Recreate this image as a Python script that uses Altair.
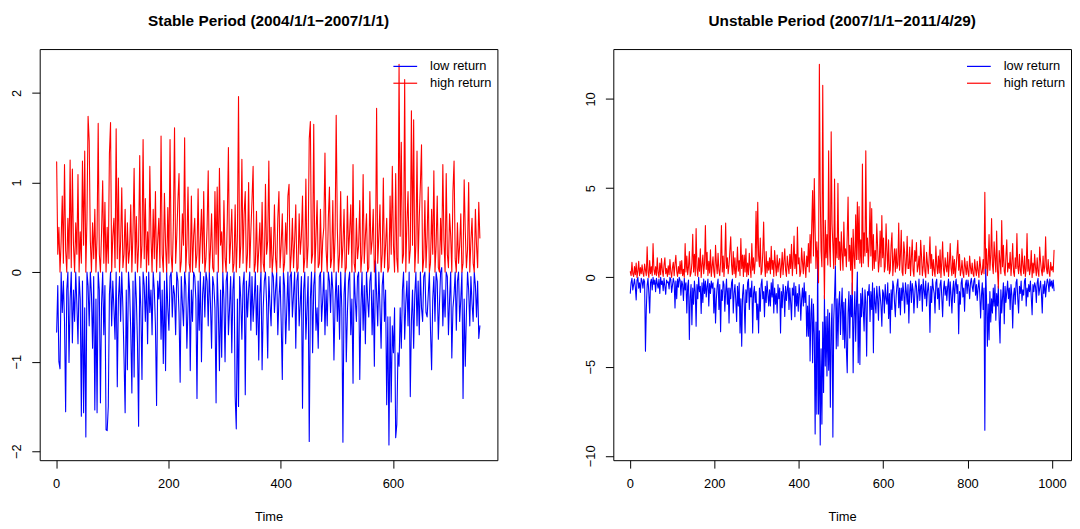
import altair as alt
import pandas as pd

FONT = "Liberation Sans"
SERIES = ["low return", "high return"]
COLORS = ["#0000FF", "#FF0000"]
STEP = 2  # one value every 2 time units

STABLE_TITLE = "Stable Period (2004/1/1\u22122007/1/1)"
UNSTABLE_TITLE = "Unstable Period (2007/1/1\u22122011/4/29)"

stable_n = 756
unstable_n = 1005
stable_xticks = [0, 200, 400, 600]
stable_yticks = [-2, -1, 0, 1, 2]
unstable_xticks = [0, 200, 400, 600, 800, 1000]
unstable_yticks = [-10, -5, 0, 5, 10]

# Time = 1, 3, 5, ... ; 15 values per row (30 time units)
stable_high = [
    1.23, 0.20, 0.50, 0.00, 0.35, 0.85, 0.10, 1.20, 0.25, 0.00, 0.60, 0.15, 1.25, 0.05, 1.15,
    0.30, 0.00, 0.55, 0.20, 1.09, 0.00, 0.45, 0.10, 1.24, 0.30, 1.35, 0.00, 0.60, 1.74, 1.46,
    0.35, 0.00, 0.55, 0.15, 0.70, 0.00, 0.40, 1.66, 0.20, 0.00, 0.45, 1.02, 0.10, 0.78, 0.00,
    0.50, 0.10, 1.32, 1.67, 0.00, 0.40, 0.60, 0.05, 1.60, 0.15, 1.05, 0.00, 0.35, 0.94, 0.05,
    0.20, 0.70, 0.00, 0.55, 0.10, 0.25, 0.75, 0.00, 0.45, 1.16, 0.10, 0.62, 0.00, 0.30, 1.30,
    0.05, 0.30, 1.48, 0.15, 0.82, 0.00, 0.45, 0.08, 1.18, 0.40, 0.00, 0.70, 0.15, 0.90, 0.00,
    0.35, 0.60, 0.05, 1.52, 0.20, 0.00, 0.88, 0.30, 0.00, 0.72, 0.10, 1.48, 0.20, 0.00, 0.55,
    1.61, 0.10, 0.40, 0.80, 1.10, 0.00, 0.12, 0.65, 0.30, 1.50, 0.00, 0.30, 0.95, 0.10, 0.00,
    0.85, 0.00, 0.40, 0.60, 0.05, 0.20, 0.93, 0.00, 0.35, 0.70, 0.10, 0.90, 0.00, 0.15, 0.50,
    1.13, 0.00, 0.25, 0.65, 0.05, 0.00, 0.90, 0.20, 0.95, 0.00, 1.16, 0.30, 0.45, 0.00, 0.80,
    0.15, 0.00, 0.60, 1.39, 0.10, 0.35, 0.70, 0.00, 0.10, 0.75, 0.00, 0.40, 1.96, 0.05, 0.30,
    1.26, 0.10, 0.65, 0.90, 0.00, 0.20, 1.00, 0.05, 0.45, 0.80, 1.18, 0.00, 0.10, 0.68, 0.00,
    0.25, 0.55, 0.00, 0.78, 0.10, 0.00, 0.98, 0.20, 0.35, 1.24, 0.05, 0.50, 0.00, 0.20, 0.75,
    0.15, 0.00, 0.60, 0.90, 0.05, 0.30, 0.65, 0.00, 0.10, 0.55, 0.20, 0.85, 0.98, 0.00, 0.20,
    0.60, 0.05, 0.35, 0.75, 0.00, 0.05, 0.65, 0.20, 0.40, 0.85, 0.00, 0.15, 1.04, 0.05, 0.30,
    1.49, 1.68, 0.10, 0.20, 1.65, 0.00, 0.40, 0.80, 0.05, 0.10, 0.70, 0.00, 0.35, 0.50, 1.33,
    0.25, 0.00, 0.60, 0.95, 0.05, 0.15, 0.80, 0.00, 0.40, 1.75, 0.50, 0.00, 0.20, 0.90, 0.05,
    0.30, 0.70, 0.00, 0.05, 0.85, 0.20, 0.45, 0.75, 0.00, 1.20, 0.10, 0.00, 0.60, 0.15, 0.30,
    0.80, 0.00, 0.20, 1.09, 0.10, 0.40, 0.65, 0.00, 0.05, 0.90, 0.20, 0.35, 0.70, 0.00, 0.15,
    1.83, 0.10, 0.40, 0.75, 0.00, 0.20, 1.05, 0.05, 0.30, 0.60, 0.00, 0.05, 0.85, 0.20, 1.18,
    0.30, 0.00, 1.10, 0.15, 0.00, 2.32, 0.40, 1.45, 0.10, 0.20, 2.15, 0.00, 0.55, 0.90, 0.10,
    0.25, 1.80, 0.30, 1.70, 0.00, 0.30, 1.35, 0.10, 0.60, 0.98, 1.42, 0.00, 0.15, 0.80, 0.05,
    0.40, 0.95, 0.00, 0.10, 0.70, 0.20, 1.13, 0.00, 0.30, 0.85, 0.05, 0.00, 0.60, 0.20, 1.20,
    0.35, 0.00, 1.10, 0.20, 0.05, 0.65, 0.40, 0.00, 0.90, 1.24, 0.15, 0.00, 0.55, 0.10, 0.30,
    0.65, 0.00, 0.10, 1.03, 0.45, 0.05, 0.25, 1.00, 0.00, 0.35, 0.60, 0.10, 0.00, 0.70, 0.30,
    0.05, 0.78, 0.38,
]

stable_low = [
    -0.67, -0.15, -1.00, -1.08, 0.00, -0.45, -0.10, -0.55, -1.56, -0.20, 0.00, -1.01, -0.30, 0.00, -0.79,
    -0.20, -0.55, 0.00, -0.35, -0.80, -0.05, -0.30, -1.61, -0.10, -1.57, -0.40, -1.84, 0.00, -0.15, -0.60,
    0.00, -0.25, -0.85, -0.05, -1.54, -0.30, -1.57, 0.00, -0.20, -1.46, -0.35, 0.00, -0.70, -0.15, -1.76,
    -1.77, -1.50, -0.25, 0.00, -0.60, -0.10, -0.40, -0.75, 0.00, -1.28, -0.30, -0.05, -0.55, 0.00, -0.40,
    -0.95, -1.57, -0.20, -1.09, 0.00, -0.20, -0.65, -1.35, -0.10, -1.17, 0.00, -0.30, -0.80, -1.72, -0.05,
    -0.40, -1.20, 0.00, -0.15, -0.55, -0.05, -0.80, 0.00, -0.45, -0.20, -0.70, 0.00, -0.20, -0.60, -1.49,
    -0.10, -0.30, 0.00, -0.75, -0.20, -1.02, -0.10, -1.10, 0.00, -0.40, -0.65, -0.05, 0.00, -0.50, -0.15,
    -0.25, -0.70, 0.00, -0.10, -0.45, -1.23, -0.05, -0.35, -0.60, 0.00, -0.15, -0.85, -0.40, 0.00, -1.10,
    -0.20, -0.55, 0.00, -0.05, -0.30, -1.41, -0.10, -0.65, 0.00, -1.00, -0.25, -0.05, -0.50, 0.00, -0.10,
    -0.60, 0.00, -0.35, -0.85, -0.05, -0.15, -0.40, -1.46, 0.00, -0.40, -1.10, -0.20, -0.95, 0.00, -0.30,
    -1.00, -0.10, 0.00, -0.70, -0.40, -0.05, -0.90, -0.20, 0.00, -1.39, -1.75, -0.30, -1.50, -0.05, -0.30,
    -0.75, -0.15, 0.00, -1.37, -0.10, -0.50, -0.20, 0.00, -0.65, -0.05, -0.55, -0.30, 0.00, -0.70, -0.15,
    -0.98, -0.25, 0.00, -1.09, -0.40, -0.10, 0.00, -0.35, -0.96, -0.05, -0.35, -0.60, 0.00, -0.05, -0.45,
    -0.20, 0.00, -0.70, -0.30, -0.05, -0.55, -1.20, 0.00, -0.15, -0.80, -0.40, 0.00, -0.65, -0.05, 0.00,
    -0.50, -0.25, 0.00, -0.85, -0.10, 0.00, -0.60, -0.35, -0.05, -1.52, -0.20, 0.00, -0.75, -0.40, -0.05,
    -1.89, -0.30, 0.00, -0.90, -0.15, 0.00, -0.65, -0.40, -0.85, -0.05, 0.00, -0.55, -0.30, 0.00, -0.70,
    -0.20, -0.60, 0.00, -0.10, -0.45, 0.00, -0.20, -0.98, -0.35, 0.00, -0.55, -0.15, -0.75, 0.00, -0.40,
    -1.90, -0.25, 0.00, -1.00, -0.45, -0.10, 0.00, -0.70, -0.30, -1.24, 0.00, -0.30, -0.55, -0.05, 0.00,
    -1.20, -0.40, 0.00, -0.65, -0.15, -0.80, 0.00, -0.30, -0.50, -0.10, 0.00, -0.70, -0.20, -1.05, 0.13,
    -0.25, -0.60, 0.00, -0.40, -0.85, -0.15, 0.00, -0.55, -0.20, -1.48, -0.50, -1.93, -0.50, -1.45, -0.60,
    -0.90, -0.40, -1.85, -1.70, -0.90, -1.05, -0.40, -0.85, -0.20, 0.00, -0.75, -0.35, -0.10, -0.60, 0.00,
    -1.39, -0.55, -0.20, -0.85, -0.25, 0.00, -0.60, -0.10, -0.70, 0.00, -0.40, -0.55, -0.05, 0.00, -0.45,
    -0.50, -0.25, 0.00, -0.65, -1.09, -0.30, -0.05, -0.55, 0.00, -0.10, -0.75, -0.35, 0.00, 0.05, -0.60,
    -0.20, -0.50, 0.00, -0.05, -0.70, -0.30, 0.00, -0.96, -0.40, -0.25, 0.00, -0.65, -0.10, 0.00, -0.55,
    -0.30, 0.00, -1.41, -0.30, -1.05, -0.45, 0.00, -0.20, -0.60, -0.05, -0.35, -0.55, 0.00, -0.15, -0.50,
    -0.10, -0.74, -0.60,
]

unstable_high = [
    0.32, 0.10, 0.85, 0.20, 0.05, 0.60, 0.15, 0.80, 0.00, 0.35, 0.90, 0.10, 0.55, 0.20, 0.70,
    0.25, 0.05, 0.75, 0.40, 0.10, 1.72, 0.30, 0.00, 0.95, 0.20, 0.60, 0.10, 1.89, 0.45, 0.15,
    0.60, 0.10, 1.10, 0.25, 0.00, 0.80, 0.15, 1.05, 0.40, 0.05, 0.70, 1.10, 0.20, 0.50, 0.05,
    0.65, 0.15, 1.00, 0.30, 0.00, 0.55, 0.85, 0.10, 0.75, 1.24, 0.35, 0.05, 0.60, 0.20, 0.90,
    0.20, 0.95, 0.10, 0.45, 0.00, 1.89, 0.30, 1.20, 0.15, 0.60, 1.45, 0.05, 0.25, 0.80, 2.41,
    0.30, 1.30, 0.10, 2.73, 0.50, 0.05, 1.10, 0.35, 1.60, 0.00, 0.70, 1.25, 0.20, 0.80, 2.91,
    0.45, 1.40, 0.10, 0.90, 0.25, 1.55, 0.05, 0.60, 1.15, 0.30, 0.00, 1.80, 0.75, 0.20, 1.35,
    0.40, 0.10, 0.85, 2.91, 0.30, 1.20, 0.05, 0.95, 3.05, 0.50, 1.10, 0.20, 0.70, 1.50, 2.27,
    0.70, 0.15, 1.45, 0.20, 1.10, 0.00, 0.60, 1.70, 0.35, 0.95, 0.10, 2.18, 0.50, 1.25, 0.05,
    1.25, 0.30, 1.60, 0.05, 0.80, 0.15, 1.35, 0.55, 0.00, 1.90, 0.40, 1.10, 0.20, 0.90, 3.70,
    0.90, 4.21, 1.20, 0.60, 2.20, 0.15, 0.35, 1.40, 3.10, 0.80, 0.05, 1.45, 0.25, 0.90, 0.40,
    1.10, 0.20, 1.74, 0.45, 0.95, 0.05, 1.50, 0.70, 0.10, 1.25, 0.30, 0.80, 1.05, 0.00, 0.55,
    1.40, 0.15, 0.90, 1.60, 0.40, 0.05, 1.20, 0.65, 0.20, 1.30, 0.50, 1.85, 0.10, 0.90, 2.32,
    0.50, 1.30, 0.20, 2.82, 0.75, 1.10, 0.05, 0.30, 1.65, 0.85, 0.20, 1.45, 0.60, 0.00, 1.20,
    0.60, 1.90, 0.30, 2.40, 0.80, 3.00, 4.86, 1.20, 5.54, 2.60, 0.50, 2.00, 0.90, -0.30, 11.94,
    4.77, 1.50, 0.60, 10.76, 2.20, -1.20, 3.20, 1.10, 2.40, 0.70, 7.09, 1.80, 0.60, 8.16, 3.00,
    1.80, 0.50, 5.51, 0.70, 2.20, 1.10, 5.27, 1.00, 2.00, 0.40, 2.55, 1.30, 0.40, 3.10, 1.20,
    1.60, 0.60, 2.30, 4.50, 0.90, 1.80, 0.40, 2.20, -0.95, 2.70, 1.20, 0.50, 3.50, 1.00, 4.22,
    1.00, 3.97, 0.80, 2.10, 0.60, 6.35, 0.80, 2.50, 1.20, 7.09, 1.40, 2.20, 0.60, 1.80, 4.22,
    1.20, 3.85, 0.40, 2.40, 0.50, 1.50, 0.90, 3.00, 1.70, 0.30, 0.90, 2.60, 0.60, 3.47, 1.10,
    2.20, 0.30, 0.60, 3.00, 1.50, 0.40, 2.10, 0.20, 0.40, 1.80, 2.50, 0.10, 0.90, 1.60, 0.30,
    1.60, 0.50, 0.70, 3.05, 0.40, 1.20, 2.64, 0.30, 0.10, 2.00, 1.40, 0.20, 0.80, 2.30, 0.50,
    0.50, 1.70, 0.10, 1.10, 2.10, 0.40, 0.05, 1.50, 0.90, 1.95, 0.30, 0.60, 1.20, 0.15, 2.08,
    1.20, 0.10, 0.60, 1.80, 0.35, 0.00, 1.40, 0.80, 0.20, 1.00, 2.27, 0.50, 1.30, 0.10, 1.00,
    0.40, 0.05, 1.75, 0.70, 0.20, 1.20, 0.25, 1.55, 0.00, 0.85, 2.00, 0.45, 0.10, 1.10, 0.60,
    0.30, 1.40, 0.05, 0.75, 1.90, 0.50, 0.10, 1.20, 0.20, 1.00, 0.00, 0.60, 1.30, 2.08, 0.40,
    1.30, 0.10, 0.40, 0.95, 0.25, 0.00, 1.10, 0.60, 0.15, 0.90, 0.30, 0.05, 1.20, 0.55, 0.20,
    0.80, 0.20, 0.05, 1.00, 0.45, 0.10, 0.90, 0.35, 0.00, 1.15, 0.60, 0.15, 0.30, 1.00, 0.20,
    4.77, 0.50, 1.60, 0.10, 0.80, 2.40, 0.40, 1.20, 3.29, 0.70, 0.20, 2.00, 1.10, 0.30, 2.60,
    0.40, -0.60, 1.50, 0.90, 0.20, 3.19, 0.60, 1.80, 0.35, 0.10, 1.20, 2.10, 0.30, 0.80, 0.50,
    1.40, 0.10, 0.80, 1.90, 0.30, 0.05, 1.10, 0.50, 2.45, 0.60, 0.20, 1.30, 0.40, 0.10, 1.60,
    0.70, 0.20, 1.20, 0.05, 0.50, 2.45, 0.35, 1.00, 0.15, 0.50, 1.50, 0.00, 0.80, 0.25, 1.30,
    0.55, 0.10, 1.10, 0.30, 0.05, 1.70, 0.90, 0.40, 0.10, 1.20, 0.30, 0.60, 2.27, 0.50, 0.20,
    1.00, 0.30, 0.05, 0.85, 0.40, 0.60, 0.30, 1.52,
]

unstable_low = [
    -0.89, -0.30, -0.05, -0.70, -0.40, -0.10, -0.55, -1.26, -0.15, 0.00, -0.60, -0.30, -0.85, -0.05, -0.20,
    -0.60, -0.10, -0.25, -4.14, -1.80, -0.45, -0.05, -0.90, -2.00, -0.30, -0.10, -0.70, 0.00, -0.40, -0.15,
    -0.80, -0.05, -0.35, -0.60, -0.10, -0.90, 0.00, -0.40, -0.20, -0.75, -0.05, -0.50, -0.95, -0.15, -0.30,
    -0.25, -0.65, 0.00, -0.10, -0.85, -0.45, -0.05, -0.30, -1.72, -0.20, -1.20, -0.10, -0.55, 0.00, -0.15,
    -1.00, -0.20, -0.40, -1.30, -0.05, -0.70, -0.30, -2.00, -0.50, -0.15, -3.48, -1.10, -0.40, -2.65, -0.60,
    -1.50, -0.20, -0.80, -2.74, -0.40, -1.20, 0.00, -0.80, -0.50, -2.02, -0.30, -1.40, -0.10, -0.90, -0.20,
    -1.10, -0.50, -0.10, -1.60, -0.35, -0.90, -0.20, -0.60, -0.30, -2.00, -0.60, -2.56, -1.20, -0.45, -0.10,
    -1.80, -0.40, -3.04, -0.70, -1.30, -0.20, -0.40, -1.90, -0.80, -0.10, -1.50, -0.60, -2.56, -0.60, -1.20,
    -0.30, -0.10, -2.00, -0.90, -0.40, -1.30, -2.47, -0.50, -1.60, -0.30, -3.12, -1.20, -3.86, -1.00, -0.40,
    -1.50, -3.12, -0.70, -1.40, -0.30, -0.10, -1.80, -0.60, -1.10, -0.20, -3.12, -0.90, -0.50, -1.40, -0.80,
    -2.37, -1.50, -3.12, -0.60, -1.90, -0.40, -0.10, -1.20, -0.80, -2.20, -0.50, -1.40, -0.20, -0.90, -1.60,
    -0.70, -1.60, -0.30, -1.10, -0.10, -2.00, -0.60, -1.50, -0.90, -2.00, -0.40, -1.20, -0.60, -3.12, -0.80,
    -1.70, -0.40, -0.90, -2.19, -0.50, -1.30, -0.70, -0.20, -1.80, -0.60, -1.40, -2.37, -0.60, -1.00, -0.30,
    -2.20, -0.50, -1.60, -0.90, -1.90, -0.40, -1.00, -2.40, -1.20, -0.60, -1.60, -0.30, -1.40, -0.80, -3.30,
    -1.60, -3.30, -1.00, -4.69, -2.00, -1.20, -4.78, -1.50, -3.20, -8.77, -2.50, -7.66, 1.49, -7.66, -3.00,
    -9.39, -4.00, -8.22, -2.50, -6.45, -1.00, -4.97, -2.20, -5.52, -1.80, -5.20, -2.00, -7.28, -3.00, -1.50,
    -8.95, -2.40, -1.00, 0.65, -4.00, -1.20, -3.85, -1.50, -0.80, -3.20, -1.63, -0.60, -3.48, -1.40, -3.95,
    -1.20, -4.04, -5.34, -2.00, -0.80, -3.40, -1.00, -2.20, -0.30, -5.34, -2.20, -0.80, -3.58, -1.40, 0.30,
    -4.78, -1.50, -4.88, -0.90, -2.20, -0.60, -1.80, -3.00, -0.70, -1.40, -4.41, -0.80, -1.00, -0.40, -2.47,
    -0.80, -1.80, -0.30, -4.22, -0.60, -1.40, -2.00, -0.50, -1.20, -2.40, -0.50, -1.00, -1.60, -2.74, -0.70,
    -0.90, -2.00, -0.40, -1.20, -1.50, -0.30, -2.30, -0.90, -3.12, -0.70, -1.80, -0.20, -0.50, -1.40, -2.20,
    -1.00, -0.40, -0.10, -1.70, -0.60, -2.10, -0.60, -1.30, -0.30, -0.90, -2.00, -0.30, -0.80, -1.50, -0.40,
    -2.56, -0.80, -0.20, -1.40, -0.35, -0.70, -2.00, -1.00, -0.20, -0.50, -1.70, -0.90, -0.10, -1.30, -0.50,
    -0.40, -1.90, -0.10, -0.70, -1.20, -0.20, -1.60, -0.80, -0.30, -1.00, -3.08, -0.50, -1.40, -0.10, -0.60,
    -0.90, -2.00, -0.30, -0.10, -1.20, -0.60, -1.80, -0.40, -0.15, -1.10, -2.20, -0.70, -0.20, -1.00, -0.50,
    -1.30, -0.50, -0.10, -1.60, -0.25, -1.00, -2.00, -0.70, -0.20, -1.40, -0.40, -0.10, -0.90, -0.40, -3.16,
    -0.80, -1.50, -0.30, -0.05, -1.10, -0.60, -1.90, -0.40, -0.15, -0.90, -0.15, -0.50, -1.20, -0.30, -0.05,
    -0.50, -0.80, -0.20, -0.05, -1.00, -0.40, -1.30, -0.60, -0.15, -0.90, -2.28, -1.00, -0.30, -1.80, -0.60,
    -8.57, 0.60, -1.20, -3.86, -1.50, -3.50, -0.80, -2.50, -1.20, -2.00, -0.60, -1.60, -0.40, -2.40, -0.90,
    -1.60, -0.50, -2.40, -3.67, -0.70, -2.00, -1.10, -0.30, -2.60, -0.50, -1.40, -0.80, -0.20, -1.20, -0.60,
    -1.80, -0.40, -1.00, -2.83, -1.00, -0.60, -1.50, -0.30, -0.10, -1.20, -2.00, -0.50, -0.90, -0.20, -1.30,
    -0.70, -1.00, -0.20, -0.05, -1.60, -0.60, -1.10, -0.40, -0.80, -0.20, -1.10, -2.09, -0.40, -0.80, -0.30,
    -0.50, -1.40, -0.30, -0.05, -1.00, -0.60, -0.20, -0.90, -2.00, -0.40, -0.90, -0.20, -1.10, -0.50, -0.10,
    -0.30, -0.80, -0.10, -0.50, -0.20, -0.60, -0.15, -0.75,
]

PLOT_W = 462
PLOT_H = 415


def frame(low, high):
    rows = []
    for name, vals in ((SERIES[0], low), (SERIES[1], high)):
        for i, v in enumerate(vals):
            rows.append({"Time": 1 + STEP * i, "value": v, "series": name})
    return pd.DataFrame(rows)


def panel(low, high, n, title, xticks, yticks):
    df = frame(low, high)
    xpad = 0.04 * (n - 1)
    vals = low + high
    ypad = 0.04 * (max(vals) - min(vals))
    x = alt.X(
        "Time:Q",
        title="Time",
        scale=alt.Scale(domain=[1 - xpad, n + xpad], nice=False, zero=False),
        axis=alt.Axis(values=xticks, format="d", tickSize=8, labelPadding=10,
                      titlePadding=20, labelFlush=False, labelOverlap=False),
    )
    y = alt.Y(
        "value:Q",
        title=None,
        scale=alt.Scale(domain=[min(vals) - ypad, max(vals) + ypad], nice=False, zero=False),
        axis=alt.Axis(values=yticks, format="d", tickSize=8, labelAngle=270,
                      labelAlign="center", labelBaseline="bottom", labelPadding=8,
                      minExtent=31, maxExtent=31, labelFlush=False, labelOverlap=False),
    )
    color = alt.Color(
        "series:N",
        scale=alt.Scale(domain=SERIES, range=COLORS),
        legend=alt.Legend(title=None, orient="none", legendX=362, legendY=10.5,
                          direction="vertical", symbolType="M-2,0H2", symbolSize=144,
                          symbolStrokeWidth=1.2, labelFont=FONT, labelFontSize=13,
                          labelColor="black", labelOffset=18, rowPadding=3,
                          padding=0, labelLimit=300),
    )
    base = alt.Chart(df).encode(x=x, y=y, color=color)
    style = dict(strokeWidth=1.1, strokeJoin="round", strokeCap="round")
    low_layer = base.transform_filter(alt.datum.series == SERIES[0]).mark_line(**style)
    high_layer = base.transform_filter(alt.datum.series == SERIES[1]).mark_line(**style)
    return alt.layer(low_layer, high_layer).properties(
        width=PLOT_W,
        height=PLOT_H,
        title=alt.TitleParams(title, font=FONT, fontSize=15.5, fontWeight="bold",
                              color="black", anchor="middle", baseline="alphabetic",
                              offset=7.5),
    )


left = panel(stable_low, stable_high, stable_n, STABLE_TITLE, stable_xticks, stable_yticks)
right = panel(unstable_low, unstable_high, unstable_n, UNSTABLE_TITLE, unstable_xticks, unstable_yticks)

chart = (
    alt.hconcat(left, right, spacing=84)
    .resolve_scale(x="independent", y="independent", color="independent")
    .resolve_legend(color="independent")
    .properties(padding={"left": 0, "top": 3, "right": 0, "bottom": 0})
    .configure(font=FONT)
    .configure_view(stroke="black", strokeWidth=1)
    .configure_axis(domain=False, grid=False, tickColor="black", tickWidth=1,
                    labelColor="black", labelFont=FONT, labelFontSize=13,
                    titleFont=FONT, titleFontSize=13, titleFontWeight="normal",
                    titleColor="black")
)

chart.save("out.html", embed_options={"renderer": "svg", "actions": False})
